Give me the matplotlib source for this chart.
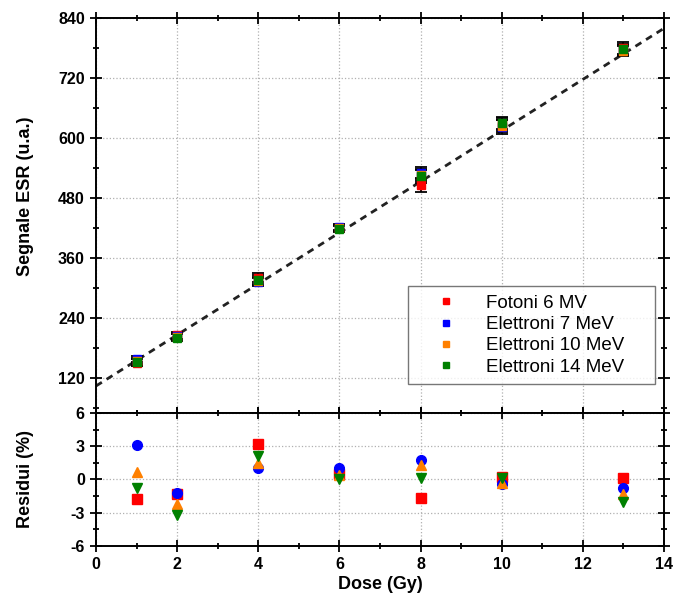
import matplotlib
matplotlib.use("Agg")
import matplotlib.pyplot as plt
from matplotlib.ticker import MultipleLocator
from matplotlib.lines import Line2D
import numpy as np

plt.rcParams['font.family'] = ['Liberation Sans', 'DejaVu Sans']
plt.rcParams['font.weight'] = 'bold'
plt.rcParams['axes.unicode_minus'] = False

# data
dose = [1, 2, 4, 6, 8, 10, 13]
series = ["Fotoni 6 MV", "Elettroni 7 MeV", "Elettroni 10 MeV", "Elettroni 14 MeV"]
colors = ["#ff0000", "#0000ff", "#ff8000", "#008000"]
markers = ["s", "o", "^", "v"]

signal = [
    [150, 205, 320, 419, 506, 628, 780],
    [157, 203, 312, 421, 530, 622, 776],
    [154, 201, 314, 419, 527, 624, 774],
    [151, 200, 316, 417, 524, 630, 778],
]
signal_err = [
    [7, 7, 9, 6, 14, 12, 12],
    [6, 6, 8, 6, 12, 14, 10],
    [6, 6, 8, 6, 12, 12, 10],
    [7, 7, 9, 6, 13, 12, 11],
]
residui = [
    [-1.8, -1.3, 3.2, 0.5, -1.7, 0.2, 0.1],
    [3.1, -1.2, 1.0, 1.0, 1.8, -0.4, -0.8],
    [0.7, -2.2, 1.5, 0.4, 1.3, -0.3, -1.3],
    [-0.8, -3.2, 2.1, 0.0, 0.1, 0.1, -2.0],
]

fit_a = 104.0
fit_b = 51.1

fig = plt.figure(figsize=(6.75, 6.13), dpi=100)
ax = fig.add_axes([0.1422, 0.3263, 0.8415, 0.6443])
axr = fig.add_axes([0.1422, 0.1093, 0.8415, 0.2170], sharex=ax)

xx = np.array([0, 14])
ax.plot(xx, fit_a + fit_b * xx, color='#222222', ls=(0, (2.5, 2)), lw=2.0, zorder=2)

for i in range(4):
    ax.errorbar(dose, signal[i], yerr=signal_err[i], fmt='s', ms=5.5,
                color=colors[i], ecolor='black', elinewidth=1.3, capsize=4,
                capthick=1.3, zorder=3)
    axr.plot(dose, residui[i], ls='none', marker=markers[i], ms=7,
             color=colors[i], zorder=3)

ax.set_xlim(0, 14)
ax.set_ylim(50, 840)
ax.yaxis.set_major_locator(MultipleLocator(120))
ax.yaxis.set_minor_locator(MultipleLocator(60))
ax.set_yticks([120, 240, 360, 480, 600, 720, 840])
ax.xaxis.set_major_locator(MultipleLocator(2))
ax.xaxis.set_minor_locator(MultipleLocator(1))
plt.setp(ax.get_xticklabels(), visible=False)

axr.set_ylim(-6, 6)
axr.yaxis.set_major_locator(MultipleLocator(3))
axr.yaxis.set_minor_locator(MultipleLocator(1.5))

for a in (ax, axr):
    a.grid(True, which='major', color='#b0b0b0', ls=':', lw=0.9)
    a.tick_params(which='both', direction='inout', top=True, right=True,
                  width=1.3, labelsize=11.5)
    a.tick_params(which='major', length=9)
    a.tick_params(which='minor', length=5)
    for s in a.spines.values():
        s.set_linewidth(1.4)
    for lab in a.get_xticklabels() + a.get_yticklabels():
        lab.set_fontweight('bold')

ax.set_ylabel("Segnale ESR (u.a.)", fontsize=13, fontweight='bold')
axr.set_ylabel("Residui (%)", fontsize=13, fontweight='bold')
axr.set_xlabel("Dose (Gy)", fontsize=13, fontweight='bold', labelpad=3)
ax.yaxis.set_label_coords(-0.11, 0.55)
axr.yaxis.set_label_coords(-0.11, 0.5)

handles = [Line2D([], [], ls='none', marker='s', ms=4.5, color=c) for c in colors]
leg = ax.legend(handles, series, loc='lower left',
                bbox_to_anchor=(0.549, 0.073, 0.435, 0.269), mode='expand',
                fontsize=13.5, handletextpad=0.5, borderpad=0.45,
                labelspacing=0.22, fancybox=False, edgecolor='#555555',
                handlelength=3.2, borderaxespad=0)
leg.get_frame().set_linewidth(1.0)
for t in leg.get_texts():
    t.set_fontweight('normal')

fig.savefig("out.png", dpi=100)
